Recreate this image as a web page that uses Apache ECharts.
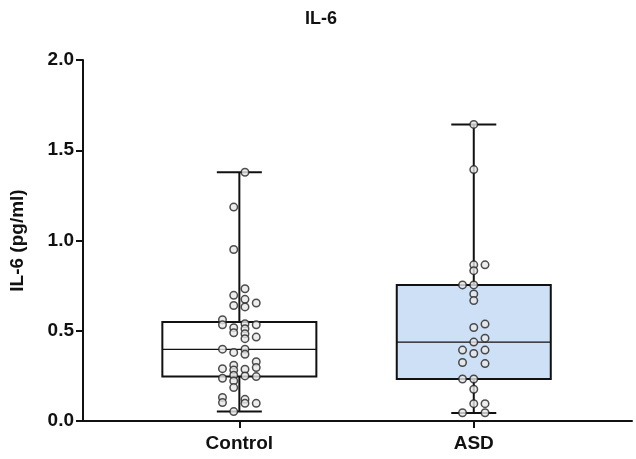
<!DOCTYPE html>
<html>
<head>
<meta charset="utf-8">
<script src="https://cdn.jsdelivr.net/npm/echarts@6/dist/echarts.min.js"></script>
<style>
html,body{margin:0;padding:0;background:#fff;}
#chart{width:636px;height:459px;}
</style>
</head>
<body>
<div id="chart"></div>
<script>
// ---- data ----
const title = 'IL-6';
const yAxisName = 'IL-6 (pg/ml)';
const categories = ['Control', 'ASD'];
const yTicks = [0, 0.5, 1.0, 1.5, 2.0];

// box statistics: [min, Q1, median, Q3, max]
const controlBox = [0.052, 0.247, 0.397, 0.548, 1.378];
const asdBox = [0.044, 0.233, 0.437, 0.753, 1.643];

// individual points (values) and their beeswarm column index
const controlValues = [1.378, 1.185, 0.950, 0.733, 0.696, 0.674, 0.654, 0.640, 0.632,
  0.561, 0.533, 0.539, 0.533, 0.517, 0.489, 0.511, 0.483, 0.465, 0.456,
  0.398, 0.380, 0.398, 0.370, 0.328, 0.296, 0.290, 0.309, 0.282, 0.287,
  0.237, 0.254, 0.222, 0.250, 0.246, 0.185, 0.130, 0.102, 0.120, 0.098, 0.098, 0.052];
const controlCols = [0.5, -0.5, -0.5, 0.5, -0.5, 0.5, 1.5, -0.5, 0.5,
  -1.5, -1.5, 0.5, 1.5, -0.5, -0.5, 0.5, 0.5, 1.5, 0.5,
  -1.5, -0.5, 0.5, 0.5, 1.5, 1.5, -1.5, -0.5, -0.5, 0.5,
  -1.5, -0.5, -0.5, 0.5, 1.5, -0.5, -1.5, -1.5, 0.5, 0.5, 1.5, -0.5];

const asdValues = [1.643, 1.393, 0.865, 0.865, 0.833, 0.754, 0.754, 0.704, 0.667,
  0.537, 0.518, 0.459, 0.437, 0.393, 0.393, 0.374, 0.324, 0.318,
  0.233, 0.233, 0.176, 0.096, 0.096, 0.046, 0.046];
const asdCols = [0, 0, 0, 1, 0, -1, 0, 0, 0,
  1, 0, 1, 0, -1, 1, 0, -1, 1,
  -1, 0, 0, 0, 1, -1, 1];

const boxFills = ['#ffffff', '#cde0f6'];
const colStep = 0.048;

// ---- build options ----
const boxData = [[0].concat(controlBox), [1].concat(asdBox)];
const ctrlPts = controlValues.map((v, i) => [0 + controlCols[i] * colStep, v]);
const asdPts = asdValues.map((v, i) => [1 + asdCols[i] * colStep, v]);

const FONT = '"Liberation Sans", Arial, Helvetica, sans-serif';
const INK = '#111111';

function renderBox(params, api) {
  const x = api.value(0);
  const lo = api.coord([x, api.value(1)]);
  const q1 = api.coord([x, api.value(2)]);
  const med = api.coord([x, api.value(3)]);
  const q3 = api.coord([x, api.value(4)]);
  const hi = api.coord([x, api.value(5)]);
  const unit = api.size([1, 0])[0];
  const bw = unit * 0.657;
  const cw = unit * 0.192;
  const cx = lo[0];
  const ls = {stroke: INK, lineWidth: 2};
  return {
    type: 'group',
    children: [
      {type: 'rect', shape: {x: cx - bw / 2, y: q3[1], width: bw, height: q1[1] - q3[1]},
       style: {fill: boxFills[params.dataIndex], stroke: INK, lineWidth: 2}},
      {type: 'line', shape: {x1: cx - bw / 2, y1: med[1], x2: cx + bw / 2, y2: med[1]},
       style: {stroke: INK, lineWidth: 1.2}},
      {type: 'line', shape: {x1: cx, y1: q3[1], x2: cx, y2: hi[1]}, style: ls},
      {type: 'line', shape: {x1: cx, y1: q1[1], x2: cx, y2: lo[1]}, style: ls},
      {type: 'line', shape: {x1: cx - cw / 2, y1: hi[1], x2: cx + cw / 2, y2: hi[1]}, style: ls},
      {type: 'line', shape: {x1: cx - cw / 2, y1: lo[1], x2: cx + cw / 2, y2: lo[1]}, style: ls}
    ]
  };
}

const pointStyle = {color: '#e9e9e9', borderColor: '#222', borderWidth: 1.5};

const option = {
  backgroundColor: '#ffffff',
  animation: false,
  title: {
    text: title, left: 316, top: 5, textAlign: 'center',
    textStyle: {fontFamily: FONT, fontWeight: 'bold', fontSize: 18, color: INK}
  },
  grid: {left: 83, right: 4, top: 60, bottom: 38, containLabel: false},
  xAxis: {
    type: 'value', min: -0.667, max: 1.675,
    splitLine: {show: false},
    axisLine: {show: true, onZero: false, lineStyle: {color: INK, width: 2}},
    axisTick: {show: true, length: 7, lineStyle: {color: INK, width: 2}, customValues: [0, 1]},
    axisLabel: {
      customValues: [0, 1], margin: 13,
      formatter: v => categories[Math.round(v)],
      fontFamily: FONT, fontWeight: 'bold', fontSize: 19, color: INK
    }
  },
  yAxis: {
    type: 'value', min: yTicks[0], max: yTicks[yTicks.length - 1], interval: 0.5,
    name: yAxisName, nameLocation: 'middle', nameGap: 56, nameRotate: 90,
    nameTextStyle: {fontFamily: FONT, fontWeight: 'bold', fontSize: 19, color: INK},
    splitLine: {show: false},
    axisLine: {show: true, onZero: false, lineStyle: {color: INK, width: 2}},
    axisTick: {show: true, length: 7, lineStyle: {color: INK, width: 2}},
    axisLabel: {
      margin: 9, formatter: v => v.toFixed(1),
      fontFamily: FONT, fontWeight: 'bold', fontSize: 19, color: INK
    }
  },
  series: [
    {type: 'custom', renderItem: renderBox, data: boxData, encode: {x: 0, y: [1, 2, 3, 4, 5]}, z: 1},
    {type: 'scatter', data: ctrlPts, symbol: 'circle', symbolSize: 7.5, itemStyle: pointStyle, z: 3},
    {type: 'scatter', data: asdPts, symbol: 'circle', symbolSize: 7.5, itemStyle: pointStyle, z: 3}
  ]
};

const chart = echarts.init(document.getElementById('chart'), null, {renderer: 'canvas'});
chart.setOption(option);
</script>
</body>
</html>
